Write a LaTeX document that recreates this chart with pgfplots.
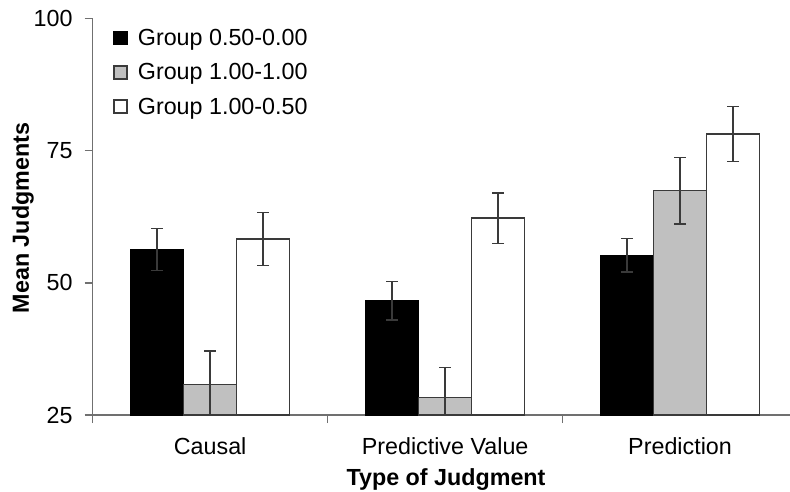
\documentclass[border=0pt]{standalone}
\usepackage{pgfplots}
\pgfplotsset{compat=1.18}
\usepackage{fontspec}
\setmainfont{Liberation Sans}
\definecolor{axgray}{HTML}{707070}
\definecolor{bargray}{HTML}{C0C0C0}
\definecolor{edge}{HTML}{3A3A3A}
\newcommand{\fs}{\fontsize{23.3}{28}\selectfont}
\begin{document}
\begin{tikzpicture}
\useasboundingbox (0,0) rectangle (790pt,491pt);
\begin{axis}[
  at={(92.7pt,76pt)}, anchor=south west,
  scale only axis, width=697.3pt, height=396.7pt,
  xmin=-0.5, xmax=2.468, ymin=25, ymax=100,
  ybar=0pt, bar width=53pt,
  axis x line=bottom, axis y line=left,
  axis line style={-, draw=axgray, line width=1.5pt},
  ytick={25,50,75,100},
  xtick={0,1,2}, xticklabels={Causal, Predictive Value, Prediction},
  minor xtick={-0.5,0.5,1.5,2.5},
  tick align=outside,
  major x tick style={draw=none},
  minor tick length=8pt, major tick length=8pt,
  tick style={draw=axgray, line width=1.5pt},
  font=\fs,
  ticklabel style={font=\fs},
  /pgf/number format/assume math mode=true,
  xticklabel style={anchor=base, yshift=-31pt},
  yticklabel style={anchor=east, inner sep=0pt, xshift=-12pt},
  xlabel={Type of Judgment},
  xlabel style={font=\fs\bfseries, at={(axis description cs:0.5067,-0.1785)}, anchor=base},
  ylabel={Mean Judgments},
  ylabel style={font=\fs\bfseries, at={(axis description cs:-0.100,0.4966)}, anchor=center},
  legend style={draw=none, fill=none, at={(0.029,0.978)}, anchor=north west,
    inner sep=0pt, row sep=12.5pt, font=\fs, nodes={inner sep=2pt}},
  legend cell align=left,
  legend image code/.code={\draw[#1] (0pt,-6.5pt) rectangle (13pt,6.5pt);
    \path[draw=none, fill=none] (0pt,0pt) -- (22pt,0pt);},
  error bars/y dir=both, error bars/y explicit,
  error bars/error bar style={line width=1.5pt, draw=edge},
  error bars/error mark options={rotate=90, line width=1.5pt, mark size=6pt, draw=edge},
]
\addplot[fill=black, draw=black, line width=1.5pt] coordinates {
  (0,56.3) +- (0,4.0)
  (1,46.6) +- (0,3.6)
  (2,55.2) +- (0,3.2)
};
\addlegendentry{Group 0.50-0.00}
\addplot[fill=bargray, draw=edge, line width=1.5pt] coordinates {
  (0,30.8) +- (0,6.3)
  (1,28.3) +- (0,5.7)
  (2,67.4) +- (0,6.3)
};
\addlegendentry{Group 1.00-1.00}
\addplot[fill=white, draw=edge, line width=1.5pt] coordinates {
  (0,58.3) +- (0,5.0)
  (1,62.2) +- (0,4.8)
  (2,78.1) +- (0,5.2)
};
\addlegendentry{Group 1.00-0.50}
\end{axis}
\end{tikzpicture}
\end{document}
